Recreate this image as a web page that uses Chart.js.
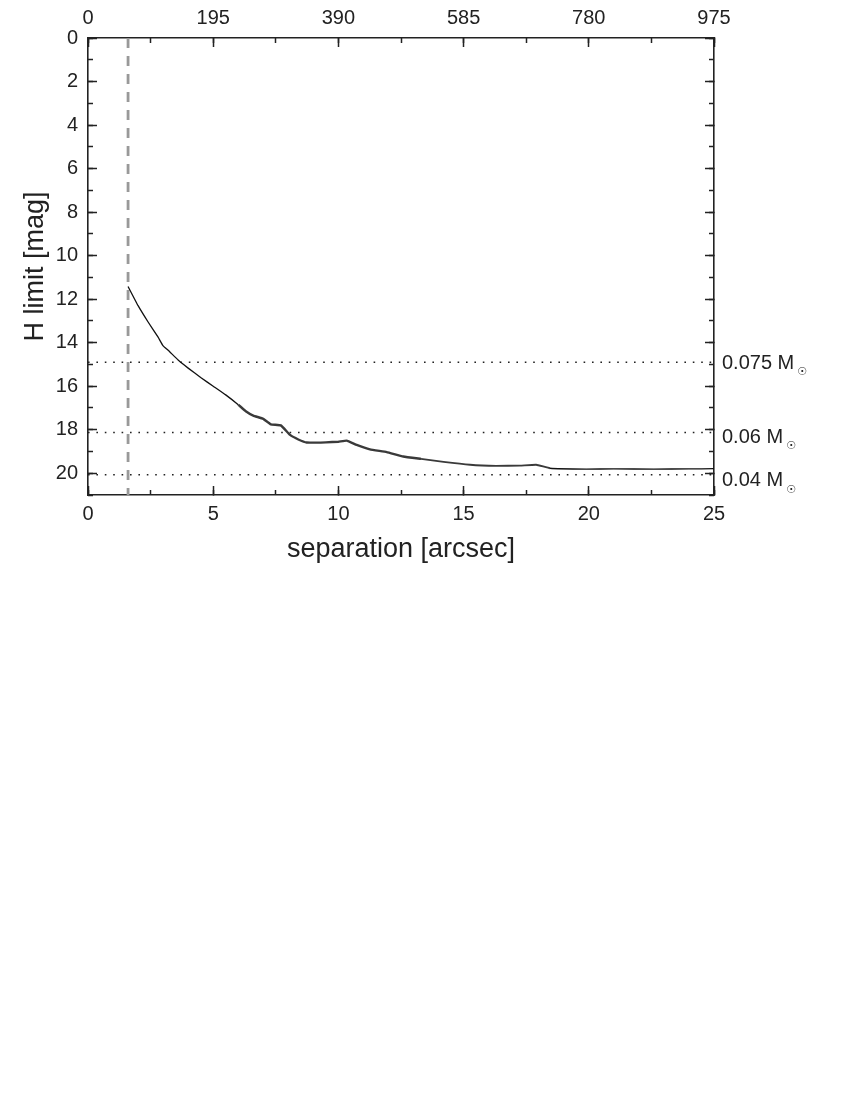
<!DOCTYPE html>
<html>
<head>
<meta charset="utf-8">
<title>H limit vs separation</title>
<script src="https://cdn.jsdelivr.net/npm/chart.js@4/dist/chart.umd.min.js"></script>
<style>
  html, body { margin: 0; padding: 0; background: #fff; }
  #wrap { width: 850px; height: 1100px; }
</style>
</head>
<body>
<div id="wrap"><canvas id="myChart" width="850" height="600"></canvas></div>
<script>
// separation [arcsec] and detection limit [H mag]
const sepArcsec = [1.6, 2.0, 2.4, 2.8, 3.0, 3.2, 3.6, 4.0, 4.5, 5.0, 5.5, 6.0, 6.3, 6.6, 7.0, 7.3, 7.7,
  8.07, 8.4, 8.73, 9.5, 10.0, 10.33, 10.73, 11.26, 11.93, 12.59, 13.3, 14.2, 15.26, 16.3,
  17.25, 17.9, 18.45, 19.9, 21.0, 22.6, 24.0, 25.0];
const hLimit = [11.42, 12.3, 13.05, 13.75, 14.15, 14.35, 14.8, 15.17, 15.6, 16.0, 16.4, 16.85, 17.15, 17.35, 17.5, 17.75, 17.8,
  18.24, 18.45, 18.59, 18.58, 18.55, 18.5, 18.7, 18.9, 19.03, 19.23, 19.34, 19.48, 19.61, 19.66,
  19.65, 19.61, 19.77, 19.81, 19.8, 19.81, 19.8, 19.79];

const innerEdge = 1.6;                       // dashed line [arcsec]
const massLimits = [14.9, 18.13, 20.07];     // H mag of the mass limits
const massLabels = ['0.075 M', '0.06 M', '0.04 M'];
const topTickLabels = ['0', '195', '390', '585', '780', '975'];  // projected separation [AU]

const xMin = 0, xMax = 25, yMin = 0, yMax = 21;
const font = "'Liberation Sans', Arial, sans-serif";
const ink = '#222';

function axis(pos, dir, step, len, width, weight, extra) {
  const cfg = {
    type: 'linear', position: pos, axis: dir, weight: weight,
    min: dir === 'x' ? xMin : yMin,
    max: dir === 'x' ? xMax : yMax,
    reverse: dir === 'y',
    afterFit: (s) => { if (dir === 'x') s.height = width; else s.width = width; },
    grid: { drawOnChartArea: false, tickLength: -len, tickWidth: 1.5, tickColor: ink },
    border: { display: weight > 0, color: ink, width: 1.6 },
    ticks: { stepSize: step, display: false, includeBounds: false, autoSkip: false,
             font: { family: font, size: 20 }, color: ink }
  };
  if (extra) {
    if (extra.ticks) Object.assign(cfg.ticks, extra.ticks);
    if (extra.title) cfg.title = extra.title;
  }
  return cfg;
}

const massText = {
  id: 'massText',
  afterDraw(chart) {
    const ctx = chart.ctx;
    const y = chart.scales.y;
    const x0 = chart.chartArea.right + 8;
    const shift = [1, 5, 6];
    ctx.save();
    ctx.fillStyle = ink;
    ctx.textBaseline = 'middle';
    ctx.textAlign = 'left';
    massLimits.forEach((v, i) => {
      const py = y.getPixelForValue(v) + shift[i];
      ctx.font = '20px ' + font;
      ctx.fillText(massLabels[i], x0, py);
      const w = ctx.measureText(massLabels[i]).width;
      ctx.font = "11px 'DejaVu Sans'";
      ctx.fillText('\u2609', x0 + w + 3, py + 9);
    });
    ctx.restore();
  }
};

const hLine = (v) => [{ x: xMin, y: v }, { x: xMax, y: v }];

// the measured curve is noisy between ~6 and ~18 arcsec: draw it thicker and greyer there
const noisyWidth = (c) => {
  const s = c.p0.parsed.x;
  if (s >= 6 && s < 13.3) return 2.4;
  if (s >= 13.3 && s < 18) return 1.8;
  return 1.3;
};
const noisyColor = (c) => (c.p0.parsed.x >= 6 && c.p0.parsed.x < 18 ? '#3a3a3a' : '#111');

const datasets = [
  {
    data: sepArcsec.map((s, i) => ({ x: s, y: hLimit[i] })),
    borderColor: '#111', borderWidth: 1.3, pointRadius: 0, tension: 0.1,
    segment: { borderWidth: noisyWidth, borderColor: noisyColor }
  },
  {
    data: [{ x: innerEdge, y: yMin }, { x: innerEdge, y: yMax }],
    borderColor: '#999', borderWidth: 2.8, borderDash: [10, 8], pointRadius: 0
  }
];
massLimits.forEach((v) => {
  datasets.push({ data: hLine(v), borderColor: ink, borderWidth: 1.6, borderDash: [1.6, 6.8], pointRadius: 0 });
});

new Chart(document.getElementById('myChart'), {
  type: 'line',
  data: { datasets: datasets },
  options: {
    responsive: false,
    animation: false,
    events: [],
    layout: { padding: 0 },
    plugins: { legend: { display: false }, tooltip: { enabled: false } },
    scales: {
      x: axis('bottom', 'x', 5, 9, 105, 1, {
        ticks: { display: true, padding: 16 },
        title: { display: true, text: 'separation [arcsec]', color: ink,
                 font: { family: font, size: 27 }, padding: { top: 0, bottom: 34 } }
      }),
      xMinor: axis('bottom', 'x', 2.5, 5, 0, 0),
      xTop: axis('top', 'x', 5, 9, 38, 1, {
        ticks: { display: true, padding: 17, callback: (v, i) => topTickLabels[i] }
      }),
      xTopMinor: axis('top', 'x', 2.5, 5, 0, 0),
      y: axis('left', 'y', 2, 9, 88, 1, {
        ticks: { display: true, padding: 19 },
        title: { display: true, text: 'H limit [mag]', color: ink,
                 font: { family: font, size: 27 }, padding: { top: 19, bottom: 0 } }
      }),
      yMinor: axis('left', 'y', 1, 5, 0, 0),
      yRight: axis('right', 'y', 2, 9, 136, 1),
      yRightMinor: axis('right', 'y', 1, 5, 0, 0)
    }
  },
  plugins: [massText]
});
</script>
</body>
</html>
